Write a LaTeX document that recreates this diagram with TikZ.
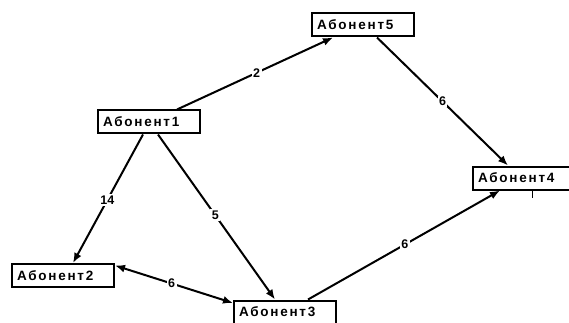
\documentclass[tikz,border=0pt]{standalone}
\usepackage{fontspec}
\setmainfont{Liberation Sans}
\usetikzlibrary{arrows.meta}

\begin{document}
\begin{tikzpicture}[x=1pt, y=-1pt, >={Latex[length=10pt, width=8pt]},
    abon/.style={draw, line width=2pt, minimum height=23pt, text width=92pt, inner sep=5pt, align=left, font=\bfseries\fontsize{13.5}{14}\selectfont\addfontfeature{LetterSpace=13}},
    link/.style={->, line width=2pt},
    ves/.style={fill=white, inner sep=1.5pt, font=\bfseries\fontsize{12.5}{13}\selectfont}]
    \useasboundingbox(0, 0)rectangle(569, 323);
    \node[abon](ab1)at(149, 122){Абонент1};
    \node[abon](ab2)at(63, 275.5){Абонент2};
    \node[abon](ab3)at(285, 312){Абонент3};
    \node[abon](ab4)at(524, 178){Абонент4};
    \node[abon](ab5)at(363, 25){Абонент5};
    \draw[link]([xshift=28]ab1.north)--([xshift=-30]ab5.south)node[ves, pos=.51]{2};
    \draw[link]([xshift=14]ab5.south)--([xshift=-16]ab4.north)node[ves, pos=.5]{6};
    \draw[link]([xshift=-6]ab1.south)--([xshift=10]ab2.north)node[ves, pos=.51]{14};
    \draw[link]([xshift=9]ab1.south)--([xshift=-10]ab3.north)node[ves, pos=.49]{5};
    \draw[link]([xshift=23]ab3.north)--([xshift=-24]ab4.south)node[ves, pos=.505]{6};
    \draw[link, <->]([yshift=10]ab2.east)--([yshift=9]ab3.west)node[ves, pos=.48]{6};
    \draw[line width=1pt]([xshift=8]ab4.south)--++(0, 7);
\end{tikzpicture}
\end{document}
